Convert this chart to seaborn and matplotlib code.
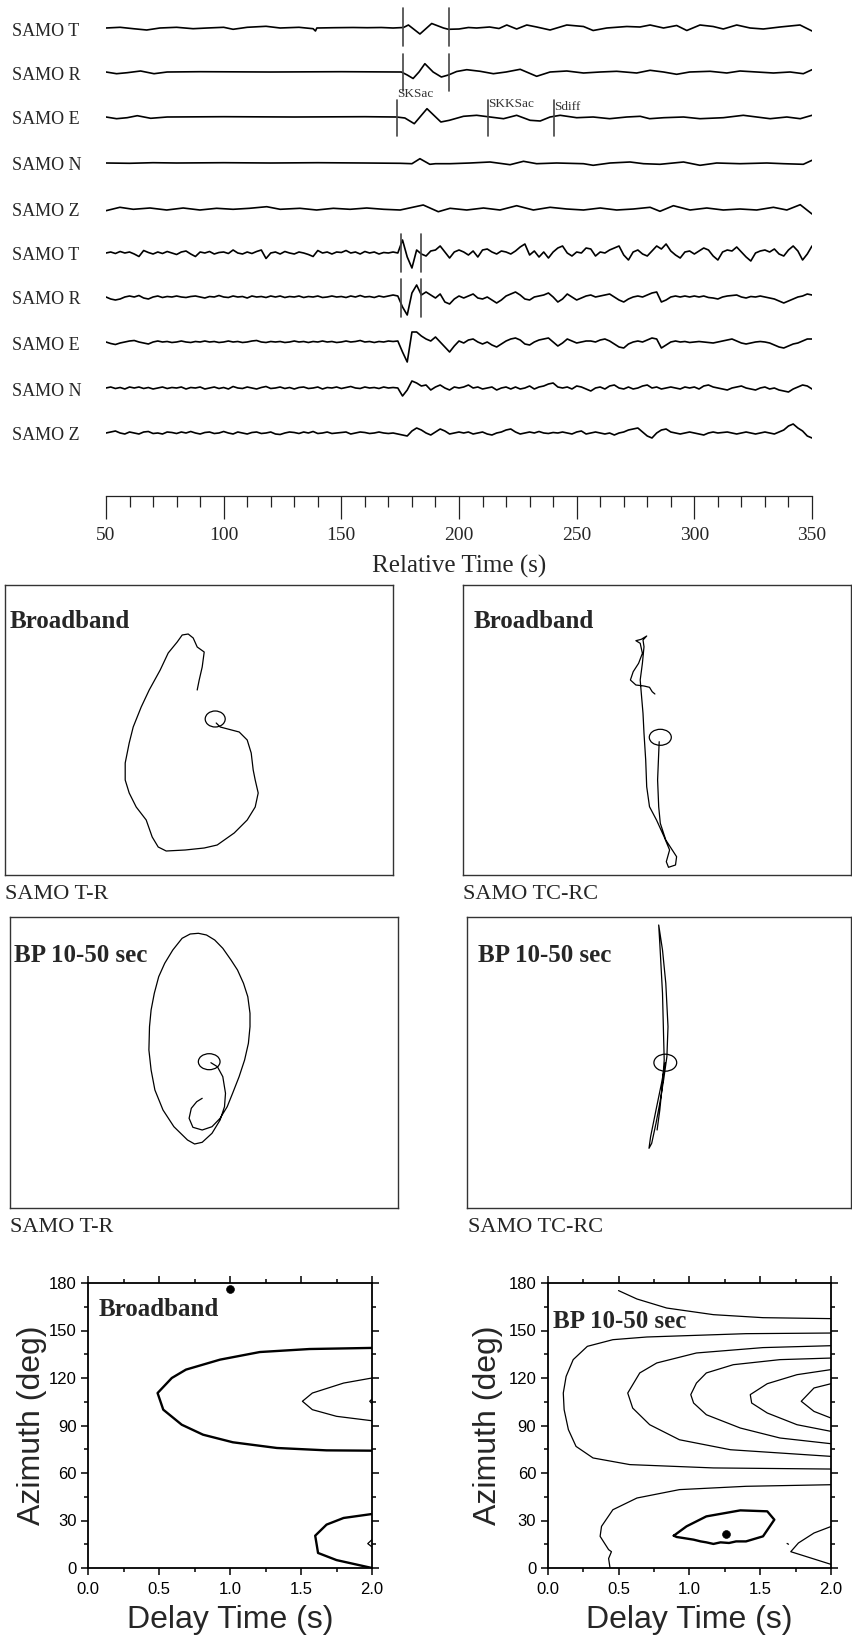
import numpy as np
import matplotlib
matplotlib.use("Agg")
import matplotlib.pyplot as plt
from matplotlib.patches import Ellipse
from matplotlib.ticker import MultipleLocator, FormatStrFormatter
import seaborn as sns

# ---------------- DATA ----------------
trace_labels = ["SAMO T", "SAMO R", "SAMO E", "SAMO N", "SAMO Z",
                "SAMO T", "SAMO R", "SAMO E", "SAMO N", "SAMO Z"]

# broadband (top five) traces: (time s, amplitude) read at turning points
top_T_t = [50,56,61.6,67.3,72.9,80,87,93,100,104,110,118,124,132,138,139,139.6,147,155,161,167,172,176.4,178.5,183.4,188.4,193.4,195.5,200,204,207.5,213,217,220.3,224.5,228.8,233,238.7,245.8,252.9,257,262.8,271.3,276.9,281.2,286.9,292.5,296.8,302.4,308,312.3,318,323.7,329.3,336.4,344.9,350]
top_T_a = [0,0.7,-0.7,-2,0,0.7,-0.7,0,0.7,-1.3,0.7,1.7,0,0.7,-0.7,-3,0,0.3,0.5,0.3,0.5,0,0.5,3,-6,4.5,0,-1.3,-1,0.5,0,1,-0.5,3,-1,3,1,-2,3,1.5,-2.5,0,1.5,1,3,0,2.5,-2.5,3,1.5,-1,3,0,-1,1,3,-3]
top_R_t = [50,54.5,59,64.7,70.4,76,90,120,150,175.5,178,180.5,183,185.5,189,192.5,195.5,199,203.3,209,214.6,220,226,233,238.7,245.8,252.9,260,267,275.5,281.2,286.9,292.5,298,306.7,313.8,319.4,326.5,333.6,340.7,346.3,350]
top_R_a = [0,-1.7,-0.7,1,-1.7,0,0.3,0,0.3,0,-3,-6.5,0,8.3,0,-5,-3,0.5,2.3,0.7,-1.7,0,2.7,-4.3,0,1,-1,0,0.7,-1,1.7,0,-2.3,0,0.7,-1,1,0,-1,0,-1.7,2.3]
top_E_t = [50,54.5,59,63.3,69,76,100,130,160,173.5,177,181,186.4,192.3,195.9,201.9,207.5,213.2,218.9,224.5,230.2,234.5,238.7,243,250,257,264,271.3,277,281,287,295.4,302.4,312.3,320.8,326.5,332.2,339.3,345,350]
top_E_a = [0,-1.7,-0.7,1.3,-1.3,0,0.3,0,0.3,0,-1,-6.7,8.3,-5,-3.3,0.7,1.7,0,-1.7,1.7,-3.3,-4,0,1.7,-0.7,0,-1.7,0,0.7,-1.7,-0.7,0,-1.7,-0.7,1.7,0,-1.7,0,-1.7,1.7]
top_N_t = [50,60,70,80,100,120,140,160,175,180,183.4,187.6,190,196.2,204.7,213.2,221.7,227.4,233,241.5,252.9,257,264.2,272.7,278.4,285.4,295.4,302.4,309.5,319.4,330.8,337.9,346.3,350]
top_N_a = [0,-0.3,0.3,0,0.3,0,0.3,0,-0.3,-0.7,4.3,-1.3,-0.7,-0.7,0,1,-1.7,1.7,-0.7,0,-0.7,-2.3,0,1,-0.7,-1.3,1,-2.3,0,-0.7,0,-0.7,-1.3,2.7]
top_Z_t = [50,55.9,61.6,68.7,75.8,82.8,89.9,97,104,111,118.3,124,132.4,139.5,146.6,153.7,160.8,168,175,184.8,191.2,196.2,203.3,210.4,217.4,224.5,231.6,238.7,245.8,252.9,260,267,274.1,281.2,285.4,291.1,298.2,305.3,312.3,319.4,326.5,333.6,339.3,345,350]
top_Z_a = [-1.7,1.7,-0.3,1,-1,1,-1,0.7,-0.3,0.7,2.3,-0.3,0.7,-1,0.7,-0.3,1,-0.3,-1,4,-2.7,0.7,-1,1,-1,3.3,-1,1.7,0,-1,1,-1,0,1.7,-2.3,3.3,-1,1,-1,0,-1,1.7,-1,4.3,-5]

# high-frequency (bottom five) traces sampled every 2 s from 50 to 350 s
bot_T = [0,1,-0.5,1.5,0,1,-1,-3.5,2.5,0.5,
         -1,1,-0.5,1.5,0,-1.5,1,2,-1,-3.5,
         1,0,1.5,-1,0.5,1,-0.5,3,0,-1,
         1,-0.5,1.5,3,-5.5,0,1,-1,1.5,0,
         -1,1,0,-1.5,-3.5,2.5,0,1,-1,1,
         0.5,2.5,0,1,-1,1.5,0,1,-1,0.5,
         0,1,0,13,-4,-15,3,-1,-3,2,
         3,7,1,-5,1,3,1,-2,2,-4,
         3,4,1,-1,2,1,-1,2,6,9,
         -2,2,-4,1,-5,1,5,7,0,-3,
         1,0,5,4,-3,1,0,3,5,7,
         -2,-7,1,3,-1,-3,2,7,4,9,
         2,-2,-5,1,2,-1,2,5,3,-3,
         -7,1,3,2,6,1,-4,-8,0,2,
         3,1,4,-1,-3,3,7,2,-7,-1,
         7]
bot_R = [0,-2,-3,-2,0,1,0,1.5,-1,-2,
         0,1,-0.5,0.5,0,1,0,-0.5,0.5,1,
         0,-1,0.5,0,1.5,0,-0.5,1,0,0.5,
         -1,1,0,0.5,-0.5,1,0,1,-0.5,0.5,
         0,1,-0.5,0.5,0,1,-0.5,0,1,0,
         0.5,-0.5,1,0,1.5,0,0.5,-0.5,1,0,
         1,2,1,-10,-18,4,12,2,5,2,
         -1,3,-5,-7,-2,1,-1,1,3,-1,
         -2,0,-3,-6,-3,1,3,5,2,-2,
         -3,0,1,2,4,0,-5,-2,3,0,
         -3,-1,1,2,0,1,2,3,0,-3,
         -5,-2,0,1,0,2,4,5,-5,-3,
         0,1,0,1,0,1,0,1,-0.5,-1,
         -2,0,1,1.5,2,0,-1,0.5,0,1,
         0,-1,-2,-4,-6,-4,-2,0,1,3,
         2]
bot_E = [0,-1.5,-2.5,-1,0,1,1.5,0,-1,-2,
         0,1,0,0.5,-0.5,0,1,0,-0.5,0.5,
         0,1,0,0.5,-0.5,0,1,0,0.5,-0.5,
         0,1,1.5,0,-0.5,0.5,0,0.5,-0.5,0,
         1,0,0.5,-0.5,0.5,0,1,0,0.5,-0.5,
         0,1,0,0.5,1.5,0,0.5,-0.5,0.5,0,
         1,0.5,1,-10,-20,10,10,6,3,1,
         5,0,-5,-10,-4,1,-1,2,3,0,
         -2,0,-3,-5,-2,1,3,4,2,-2,
         -3,0,2,3,4,0,-4,-1,3,1,
         -1,0,1,1,0,2,3,1,-2,-5,
         -6,-2,0,1,0,2,4,3,-6,-3,
         0,1,0,0.5,-0.5,0,0.5,0,-0.5,-1,
         0,1,2,3,1,-1,-2,-1,0,0.5,
         0,-1,-3,-5,-6,-4,-2,-1,1,3,
         3]
bot_N = [0,1,-0.5,0.5,-1,1,0,1,-0.5,0.5,
         -1,0,1,-0.5,0.5,0,1,-1,0.5,0,
         1,-1,0,1,-0.5,0.5,-1,1.5,0,-0.5,
         1,0,-1,0.5,1.5,-0.5,0,1,-0.5,0.5,
         -1,0.5,1,-0.5,0,1,-1,0.5,0,1,
         -0.5,0.5,1.5,0,-0.5,1,0,0.5,-0.5,1,
         0,0.5,0,-8,-2,7,5,2,3,-2,
         1,3,0,-2,1,0,1,3,0,1,
         -1,0,1,-2,0,1,-1,1,-1,0,
         2,-1,1,2,4,5,1,0,1,-1,
         2,1,-1,-3,0,1,-1,2,3,0,
         -1,1,-1,0,2,3,0,1,-1,0,
         1,0,-1,1,0,1,-1,2,3,1,
         0,-1,-2,0,1,2,0,-1,-2,0,
         1,-1,0,-2,-3,-4,-1,1,3,2,
         -1]
bot_Z = [0,1,2,0,-1,1,0,-1,1,1.5,
         -0.5,0,-1,1,0.5,-0.5,1,0,1.5,0,
         -1,0.5,1,-0.5,0,1.5,0,-1,1,0,
         -1,0.5,1,-0.5,0,1,-1,-1.5,0,1,
         0.5,-0.5,1,0,1.5,-0.5,0,1,-0.5,0,
         0.5,1,-1,0,1,0.5,-0.5,0,1,0,
         -0.5,0,-1,-2,-3,2,5,3,0,-2,
         1,4,2,-1,0,1,0,1,-1,0,
         1,-1,-2,0,1,3,4,1,-1,0,
         1,0,1.5,0,-0.5,0.5,0,1,0,-1,
         1,2,-1,0,1,0,-1,0,-2,0,
         1,3,4,5,1,-3,-5,0,3,4,
         1,0,-1,0,1,0,-1,-2,0,1,
         0,0.5,1,0,-1,0,1,0,-1,0,
         1,0,-1,1,3,7,9,5,2,-3,
         -5]

# phase picks (s)
picks_top = [176.2, 195.8]
picks_E = [173.6, 212.4, 240.4]
pick_names = ["SKSac", "SKKSac", "Sdiff"]
picks_bot = [175.5, 183.7]

# particle motion paths (T/TC horizontal, R/RC vertical; relative amplitude units)
bb_tr_x = [17,21,40,48,52,54,56,59,56,48,35,18,5,-14,-33,-41,-47,-53,-63,-70,-74,-74,-70,-66,-58,-50,-39,-31,-22,-17,-11,-6,-2,5,3,0,-2]
bb_tr_y = [7,3,-2,-10,-23,-40,-50,-63,-77,-90,-103,-115,-118,-120,-121,-117,-107,-90,-77,-63,-50,-33,-13,3,23,40,60,77,88,95,96,92,83,78,63,50,40]
bb_tcrc_x = [2.7,2.2,1.1,2.2,3.8,9.3,20.1,19,12,9.8,13.1,7.6,0,-7,-9.8,-10.8,-12.5,-13.5,-15.2,-16.3,-14.1,-12.5,-13.5,-9.8,-15.2,-20.6,-16.3,-14.1,-17.9,-23.3,-26.1,-20.6,-12.5,-7,-4.3,-1.6]
bb_tcrc_y = [-11.7,-23.3,-50,-76.7,-93.3,-110,-126.7,-135,-137.3,-131.7,-120,-106.7,-90,-76.7,-56.7,-30,-3.3,16.7,36.7,50,66.7,83.3,90,94,90.7,89.3,86.7,76.7,66.7,58.3,50,45,44,42.7,38.3,36]
bp_tr_x = [7,13.5,18.9,21.6,20.6,16.2,8.1,-1.7,-9.3,-16.4,-30,-40.9,-49,-52.8,-55,-54.4,-52.8,-49.6,-45.2,-39.2,-31.1,-21.8,-13.7,-5.5,2.6,10.8,18.9,27.1,33.6,39.6,43.9,46.1,46.1,44.5,40.7,35.2,28.7,23.3,16.2,8.1,-1.7,-11,-14.8,-12.6,-7.2,-1.7]
bp_tr_y = [-0.2,-4.2,-14.2,-30.8,-44.2,-57.5,-70.8,-79.8,-81.5,-77.5,-64.2,-47.5,-27.5,-7.5,12.5,35.8,52.5,69.2,85.8,99.2,112.5,124.2,128.5,129.2,127.5,122.5,114.2,102.5,92.5,79.2,65.8,49.2,35.8,19.2,2.5,-14.2,-30.8,-44.2,-55.8,-64.2,-67.5,-64.8,-55.8,-45.8,-39.2,-35.8]
bp_tcrc_x = [6.3,2.5,-3,-8.4,-10,-7.3,-3,0.8,4.6,7.9,9,6.8,3.5,-0.3,0.8,3.5,4.6,5.2,3.5,0.8,-1.9]
bp_tcrc_y = [-0.2,-20.8,-47.5,-74.2,-85.8,-80.8,-60.8,-40.8,-17.5,5.8,35.8,79.2,112.5,137.5,119.2,69.2,25.8,2.5,-20.8,-47.5,-67.5]
start_circles = [(16, 11, 20, 16), (3.8, -7.3, 22, 16), (5.3, 0.8, 21.7, 16), (6.3, -0.2, 22.8, 17)]

# splitting-parameter contours (delay time s, azimuth deg)
bb_contours = [
    ([2.0,1.56,1.21,0.93,0.69,0.59,0.49,0.53,0.66,0.81,1.02,1.33,1.68,2.0],
     [139,138.3,136.4,131.6,125.3,120,110.5,100,90.5,84.2,79.4,75.8,74.3,74.1], "thick"),
    ([2.0,1.8,1.58,1.51,1.58,1.75,2.0], [120,116.8,110.5,105.3,100,95.8,93], "thin"),
    ([2.0,1.984,2.0], [106.7,105.3,103.8], "thin"),
    ([2.0,1.8,1.68,1.6,1.61,1.62,1.75,2.0], [34.1,31.6,27.4,20.4,15,9.5,5,0], "thick"),
    ([2.0,1.97,2.0], [17.9,15.4,13.3], "thin"),
]
bb_best = (1.0, 176.2)
bp_contours = [
    ([0.5,0.63,0.84,1.17,1.52,2.0], [175.2,169.9,164.2,160,158.1,157.5], "thin"),
    ([2.0,1.4,0.7,0.46,0.28,0.18,0.13,0.11,0.116,0.146,0.2,0.32,0.58,1.17,2.0],
     [148.4,148,145.9,144.2,140,131.6,121,110.5,100,87.4,76.8,69.5,65.3,63.2,62.5], "thin"),
    ([2.0,1.52,1.05,0.77,0.65,0.565,0.6,0.72,0.93,1.29,2.0],
     [140.4,139.2,135.8,129.5,123.2,110.5,101,90.5,81,74.7,70.5], "thin"),
    ([2.0,1.64,1.31,1.12,1.05,1.01,1.03,1.12,1.36,1.64,2.0],
     [132.6,131.6,128.4,123.2,116.8,109.5,104.2,96.8,88.4,82.1,78.5], "thin"),
    ([2.0,1.76,1.55,1.43,1.44,1.55,1.76,2.0], [125.3,122.1,116.4,109.5,104.2,97.9,90.5,86.3], "thin"),
    ([2.0,1.88,1.79,1.88,2.0], [116.4,113.7,105.3,98.9,94.7], "thin"),
    ([2.0,1.4,0.93,0.63,0.46,0.38,0.37,0.43,0.45,0.43,0.44],
     [52.6,51.6,49.5,44.2,36.8,26.3,20,11.6,10.3,6,0], "thin"),
    ([0.89,0.98,1.12,1.36,1.55,1.6,1.52,1.4,1.33,1.28,1.22,1.17,1.12,1.08,1.03,0.96,0.91,0.89],
     [20.4,26.3,32.6,36.4,35.8,30.5,20,16.8,16.8,15.8,16.2,15.2,16.2,16.8,17.9,18.9,19.6,20.4], "thick"),
    ([2.0,1.88,1.77,1.716,2.0], [26.2,22.1,15.8,10.3,2.3], "thin"),
    ([1.69,1.7], [15.5,15], "thin"),
]
bp_best = (1.256, 21.7)

# ---------------- FIGURE ----------------
sns.set_style("ticks")
plt.rcParams['font.family'] = ['Liberation Serif', 'DejaVu Sans']
plt.rcParams['axes.linewidth'] = 1.0

W, H = 852, 1638
fig = plt.figure(figsize=(W / 100, H / 100), dpi=100)


def add_ax(x0, y0, x1, y1):
    return fig.add_axes([x0 / W, 1 - y1 / H, (x1 - x0) / W, (y1 - y0) / H])


def ftext(x, y, s, **kw):
    fig.text(x / W, 1 - y / H, s, **kw)


# ---- seismograms ----
axs = add_ax(106, 0, 812, 470)
axs.set_xlim(50, 350)
axs.set_ylim(470, 0)
axs.axis("off")
baselines = [28, 72, 117, 163, 209, 253, 297, 342, 388, 433]
top_t = [top_T_t, top_R_t, top_E_t, top_N_t, top_Z_t]
top_a = [top_T_a, top_R_a, top_E_a, top_N_a, top_Z_a]
for i in range(5):
    t = np.array(top_t[i], float)
    a = np.array(top_a[i], float)
    sns.lineplot(x=t, y=baselines[i] - a, ax=axs, color="black", lw=1.2,
                 estimator=None, sort=False)
bots = [bot_T, bot_R, bot_E, bot_N, bot_Z]
for i in range(5):
    a = np.array(bots[i], float)
    t = np.linspace(50, 350, len(a))
    sns.lineplot(x=t, y=baselines[5 + i] - a, ax=axs, color="black", lw=1.2,
                 estimator=None, sort=False)
for lab, b in zip(trace_labels, baselines):
    ftext(12, b + 3, lab, fontsize=13, va="center", ha="left")

mk = dict(color="#444444", lw=1.2)
for tp in picks_top:
    axs.plot([tp, tp], [8, 46], **mk)
    axs.plot([tp, tp], [54, 91], **mk)
for tp in picks_E:
    axs.plot([tp, tp], [100, 136], **mk)
axs.text(picks_E[0], 100, pick_names[0], fontsize=9.5, color="#333333", va="bottom", ha="left")
axs.text(picks_E[1], 98, pick_names[1], fontsize=9.5, color="#333333", va="top", ha="left")
axs.text(picks_E[2], 101, pick_names[2], fontsize=9.5, color="#333333", va="top", ha="left")
for tp in picks_bot:
    axs.plot([tp, tp], [234, 272], **mk)
    axs.plot([tp, tp], [279, 317], **mk)

# time axis
axt = add_ax(106, 480, 812, 496)
axt.set_xlim(50, 350)
axt.set_yticks([])
for s in ["left", "right", "top"]:
    axt.spines[s].set_visible(False)
axt.spines["bottom"].set_linewidth(0.9)
axt.spines["bottom"].set_color("#222222")
axt.patch.set_alpha(0)
axt.xaxis.set_major_locator(MultipleLocator(50))
axt.xaxis.set_minor_locator(MultipleLocator(10))
axt.tick_params(axis="x", which="major", direction="out", length=16.3, width=0.9,
                color="#222222", labelsize=14, pad=6)
axt.tick_params(axis="x", which="minor", direction="out", length=8, width=0.9, color="#222222")
ftext(459, 566, "Relative Time (s)", fontsize=18, ha="center", va="center")

# ---- particle motion boxes ----
boxes = [
    ((5.4, 584.7, 393, 875.3), bb_tr_x, bb_tr_y, "Broadband", "SAMO T-R", (10, 621.7), (5.4, 895)),
    ((462.5, 584.7, 850.5, 875.3), bb_tcrc_x, bb_tcrc_y, "Broadband", "SAMO TC-RC", (474, 621.7), (462.5, 895)),
    ((9.8, 917.3, 398, 1207.7), bp_tr_x, bp_tr_y, "BP 10-50 sec", "SAMO T-R", (13.6, 955), (9.8, 1228)),
    ((467, 917.3, 851, 1207.7), bp_tcrc_x, bp_tcrc_y, "BP 10-50 sec", "SAMO TC-RC", (478, 955), (468.5, 1228)),
]
for k, (bx, px, py, title, cap, tpos, cpos) in enumerate(boxes):
    x0, y0, x1, y1 = bx
    cx, cy = (x0 + x1) / 2, (y0 + y1) / 2
    ax = add_ax(x0, y0, x1, y1)
    ax.set_xlim(x0 - cx, x1 - cx)
    ax.set_ylim(cy - y1, cy - y0)
    ax.set_xticks([])
    ax.set_yticks([])
    for s in ax.spines.values():
        s.set_visible(True)
        s.set_linewidth(1.0)
        s.set_color("#333333")
    sns.lineplot(x=px, y=py, ax=ax, color="black", lw=0.9, estimator=None, sort=False)
    ex, ey, ew, eh = start_circles[k]
    ax.add_patch(Ellipse((ex, ey), ew, eh, fill=False, lw=0.9, ec="black"))
    ftext(tpos[0], tpos[1], title, fontsize=18, weight="bold", va="center", ha="left")
    ftext(cpos[0], cpos[1], cap, fontsize=16, va="center", ha="left")

# ---- splitting contour panels ----
def style_contour(ax):
    ax.set_xlim(0, 2)
    ax.set_ylim(0, 180)
    ax.xaxis.set_major_locator(MultipleLocator(0.5))
    ax.xaxis.set_minor_locator(MultipleLocator(0.25))
    ax.yaxis.set_major_locator(MultipleLocator(30))
    ax.yaxis.set_minor_locator(MultipleLocator(15))
    ax.xaxis.set_major_formatter(FormatStrFormatter("%.1f"))
    ax.tick_params(which="both", direction="out", top=True, right=True, width=1.1,
                   color="black", labelsize=12, labelfontfamily="Liberation Sans",
                   labelcolor="black")
    ax.tick_params(which="major", length=5.2)
    ax.tick_params(axis="x", which="major", pad=5)
    ax.tick_params(axis="y", which="major", pad=3)
    ax.tick_params(which="minor", length=3)
    for s in ax.spines.values():
        s.set_visible(True)
        s.set_linewidth(1.3)
        s.set_color("black")
    ax.patch.set_alpha(0)


panels = [((88, 1283, 372, 1568), bb_contours, bb_best, "Broadband", (0.077, 163), 230, 32),
          ((547.7, 1283, 831, 1568), bp_contours, bp_best, "BP 10-50 sec", (0.035, 155.6), 689.4, 488)]
for bx, cons, best, title, tpos, xc, ylx in panels:
    ax = add_ax(*bx)
    style_contour(ax)
    for cxs, cys, kind in cons:
        sns.lineplot(x=cxs, y=cys, ax=ax, color="black",
                     lw=(1.7 if kind == "thick" else 0.9),
                     estimator=None, sort=False)
    sns.scatterplot(x=[best[0]], y=[best[1]], ax=ax, color="black", s=32,
                    edgecolor="black", zorder=5, clip_on=False)
    ax.set_xlabel("")
    ax.set_ylabel("")
    ax.text(tpos[0], tpos[1], title, fontsize=18, weight="bold", va="center", ha="left")
    ftext(xc, 1620, "Delay Time (s)", fontsize=23, family="Liberation Sans",
          ha="center", va="center")
    ftext(ylx, 1425.5, "Azimuth (deg)", fontsize=23, family="Liberation Sans",
          rotation=90, ha="center", va="center")

fig.savefig("out.png", dpi=100)
